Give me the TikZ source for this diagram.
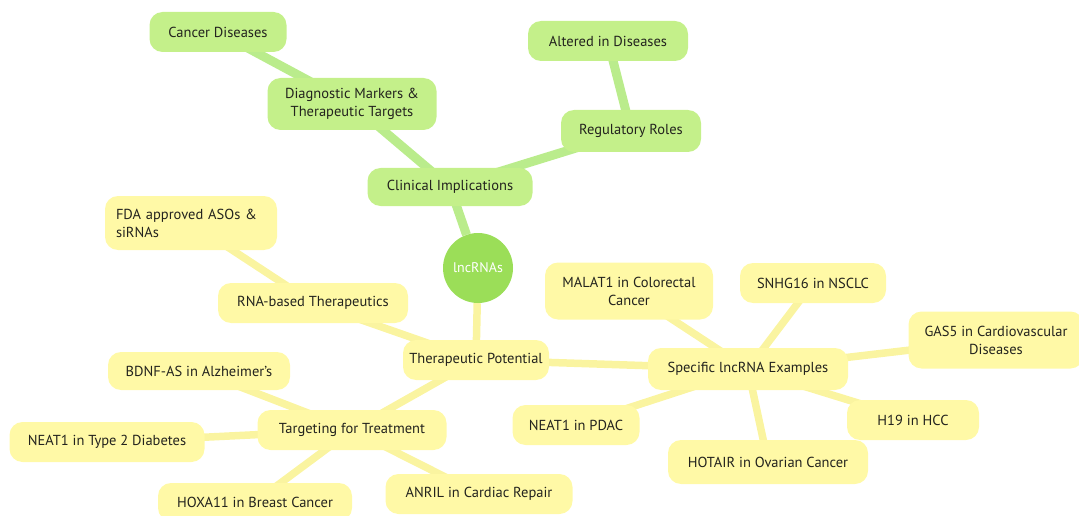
\documentclass[tikz,border=0pt]{standalone}
\usepackage{fontspec}
\setmainfont{PT Sans}
\usetikzlibrary{backgrounds}
\definecolor{gnode}{RGB}{196,240,138}
\definecolor{gline}{RGB}{186,236,140}
\definecolor{gcirc}{RGB}{155,222,88}
\definecolor{ynode}{RGB}{255,249,166}
\definecolor{yline}{RGB}{250,244,160}
\definecolor{txt}{RGB}{35,35,30}
\tikzset{
  gbox/.style={fill=gnode, rounded corners=13pt, text=txt, font=\fontsize{14.5}{18}\selectfont, align=center, inner sep=0pt},
  ybox/.style={fill=ynode, rounded corners=13pt, text=txt, font=\fontsize{14.5}{18}\selectfont, align=center, inner sep=0pt},
  gedge/.style={draw=gline, line width=9pt},
  yedge/.style={draw=yline, line width=7.5pt},
}
\begin{document}
\begin{tikzpicture}[x=1pt,y=-1pt]
\useasboundingbox (0,0) rectangle (1079,516);
% root
\node[circle, fill=gcirc, minimum size=70pt, inner sep=0pt, text=white, font=\fontsize{14}{16}\selectfont] (root) at (478,268) {lncRNAs};
% green branch
\node[gbox, minimum width=165pt, minimum height=38pt] (clin) at (450,187) {Clinical Implications};
\node[gbox, minimum width=169pt, minimum height=52pt] (diag) at (352,104) {Diagnostic Markers \&\\Therapeutic Targets};
\node[gbox, minimum width=137pt, minimum height=40pt] (canc) at (218,32) {Cancer Diseases};
\node[gbox, minimum width=140pt, minimum height=42pt] (reg) at (631,131) {Regulatory Roles};
\node[gbox, minimum width=160pt, minimum height=40pt] (alt) at (608,41) {Altered in Diseases};
% yellow branch
\node[ybox, minimum width=146pt, minimum height=40pt] (ther) at (476,360) {Therapeutic Potential};
\node[ybox, minimum width=190pt, minimum height=40pt] (rna) at (313,303) {RNA-based Therapeutics};
\node[ybox, minimum width=172pt, minimum height=54pt, align=left, text width=150pt] (fda) at (191,223) {FDA approved ASOs \&\\siRNAs};
\node[ybox, minimum width=189pt, minimum height=40pt] (targ) at (352,430) {Targeting for Treatment};
\node[ybox, minimum width=182pt, minimum height=38pt] (bdnf) at (199,371) {BDNF-AS in Alzheimer's};
\node[ybox, minimum width=195pt, minimum height=40pt] (neatd) at (107,442) {NEAT1 in Type 2 Diabetes};
\node[ybox, minimum width=194pt, minimum height=38pt] (hoxa) at (255,502) {HOXA11 in Breast Cancer};
\node[ybox, minimum width=187pt, minimum height=40pt] (anril) at (479,494) {ANRIL in Cardiac Repair};
\node[ybox, minimum width=200pt, minimum height=42pt] (spec) at (748,369) {Specific lncRNA Examples};
\node[ybox, minimum width=168pt, minimum height=57pt] (mal) at (629,291) {MALAT1 in Colorectal\\Cancer};
\node[ybox, minimum width=146pt, minimum height=40pt] (snhg) at (813,283) {SNHG16 in NSCLC};
\node[ybox, minimum width=175pt, minimum height=57pt] (gas) at (996,340) {GAS5 in Cardiovascular\\Diseases};
\node[ybox, minimum width=132pt, minimum height=40pt] (h19) at (913,420) {H19 in HCC};
\node[ybox, minimum width=200pt, minimum height=44pt] (hot) at (768,462) {HOTAIR in Ovarian Cancer};
\node[ybox, minimum width=127pt, minimum height=40pt] (neatp) at (576,425) {NEAT1 in PDAC};
\begin{pgfonlayer}{background}
\draw[gedge] (root) -- (clin.center);
\draw[gedge] (clin.center) -- (diag.center);
\draw[gedge] (diag.center) -- (canc.center);
\draw[gedge] (clin.center) -- (reg.center);
\draw[gedge] (reg.center) -- (alt.center);
\draw[yedge] (root) -- (ther.center);
\draw[yedge] (ther.center) -- (rna.center);
\draw[yedge] (rna.center) -- (fda.center);
\draw[yedge] (ther.center) -- (targ.center);
\draw[yedge] (targ.center) -- (bdnf.center);
\draw[yedge] (targ.center) -- (neatd.center);
\draw[yedge] (targ.center) -- (hoxa.center);
\draw[yedge] (targ.center) -- (anril.center);
\draw[yedge] (ther.center) -- (spec.center);
\draw[yedge] (spec.center) -- (mal.center);
\draw[yedge] (spec.center) -- (snhg.center);
\draw[yedge] (spec.center) -- (gas.center);
\draw[yedge] (spec.center) -- (h19.center);
\draw[yedge] (spec.center) -- (hot.center);
\draw[yedge] (spec.center) -- (neatp.center);
\end{pgfonlayer}
\end{tikzpicture}
\end{document}
